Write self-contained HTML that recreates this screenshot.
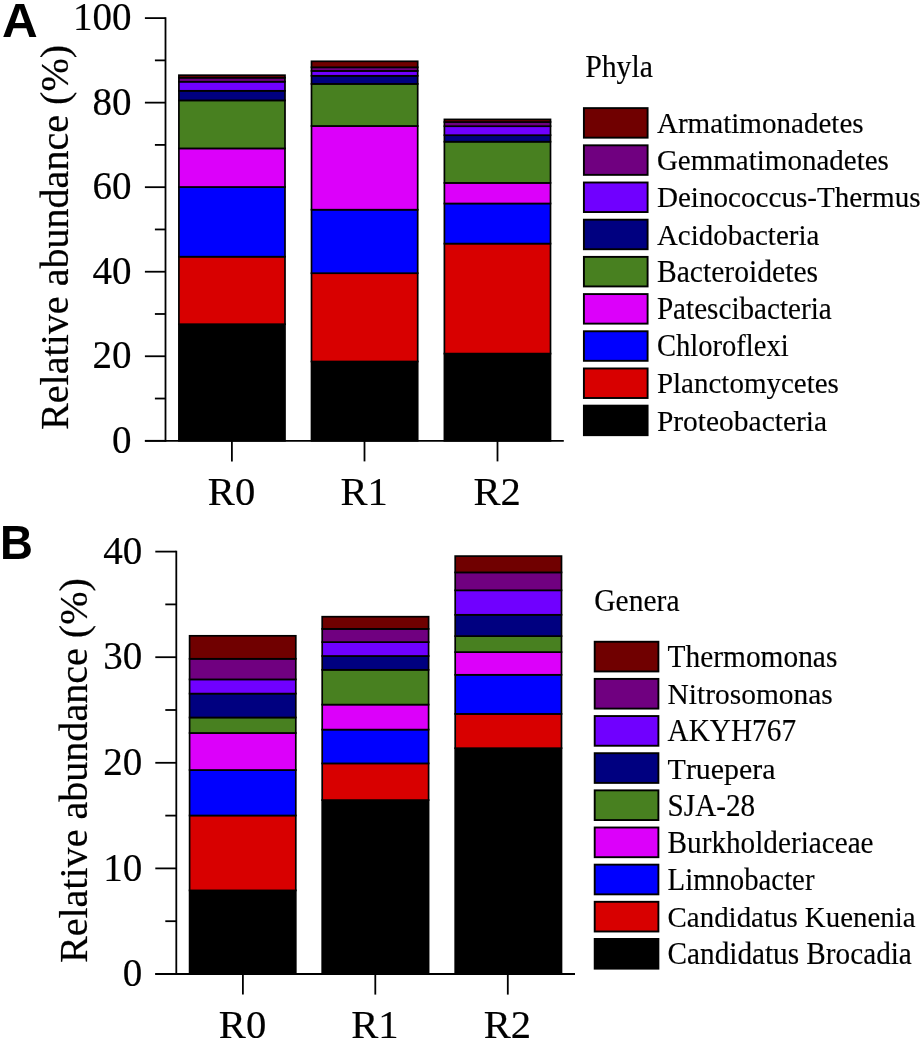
<!DOCTYPE html>
<html lang="en">
<head>
<meta charset="utf-8">
<title>Relative abundance of phyla and genera</title>
<style>
html, body { margin: 0; padding: 0; background: #ffffff; }
body { width: 924px; height: 1042px; overflow: hidden; }
svg { display: block; will-change: transform; }
text { fill: #000; font-kerning: none; font-variant-ligatures: none; stroke: #000; stroke-width: 0.2px; stroke-linejoin: round; }
.lg { stroke-width: 0.15px; }
.pl { stroke-width: 0; }
</style>
</head>
<body>
<svg width="924" height="1042" viewBox="0 0 924 1042">
<rect x="0" y="0" width="924" height="1042" fill="#ffffff"/>
<text transform="translate(2.1,37.2) scale(1.02,1)" class="pl" font-family='"Liberation Sans", Arial, sans-serif' font-weight="700" font-size="48.5">A</text>
<rect x="178.90" y="324.20" width="106.10" height="116.60" fill="#000000" stroke="#000" stroke-width="1.7"/>
<rect x="178.90" y="256.70" width="106.10" height="67.50" fill="#d80000" stroke="#000" stroke-width="1.7"/>
<rect x="178.90" y="187.00" width="106.10" height="69.70" fill="#0000ff" stroke="#000" stroke-width="1.7"/>
<rect x="178.90" y="148.40" width="106.10" height="38.60" fill="#dc00fa" stroke="#000" stroke-width="1.7"/>
<rect x="178.90" y="100.40" width="106.10" height="48.00" fill="#488020" stroke="#000" stroke-width="1.7"/>
<rect x="178.90" y="90.80" width="106.10" height="9.60" fill="#000080" stroke="#000" stroke-width="1.7"/>
<rect x="178.90" y="81.70" width="106.10" height="9.10" fill="#7000ff" stroke="#000" stroke-width="1.7"/>
<rect x="178.90" y="77.70" width="106.10" height="4.00" fill="#700080" stroke="#000" stroke-width="1.7"/>
<rect x="178.90" y="75.20" width="106.10" height="2.50" fill="#700000" stroke="#000" stroke-width="1.7"/>
<rect x="311.50" y="361.50" width="106.20" height="79.30" fill="#000000" stroke="#000" stroke-width="1.7"/>
<rect x="311.50" y="273.20" width="106.20" height="88.30" fill="#d80000" stroke="#000" stroke-width="1.7"/>
<rect x="311.50" y="209.70" width="106.20" height="63.50" fill="#0000ff" stroke="#000" stroke-width="1.7"/>
<rect x="311.50" y="126.00" width="106.20" height="83.70" fill="#dc00fa" stroke="#000" stroke-width="1.7"/>
<rect x="311.50" y="83.90" width="106.20" height="42.10" fill="#488020" stroke="#000" stroke-width="1.7"/>
<rect x="311.50" y="75.80" width="106.20" height="8.10" fill="#000080" stroke="#000" stroke-width="1.7"/>
<rect x="311.50" y="70.90" width="106.20" height="4.90" fill="#7000ff" stroke="#000" stroke-width="1.7"/>
<rect x="311.50" y="67.30" width="106.20" height="3.60" fill="#700080" stroke="#000" stroke-width="1.7"/>
<rect x="311.50" y="61.30" width="106.20" height="6.00" fill="#700000" stroke="#000" stroke-width="1.7"/>
<rect x="444.40" y="353.60" width="106.10" height="87.20" fill="#000000" stroke="#000" stroke-width="1.7"/>
<rect x="444.40" y="243.60" width="106.10" height="110.00" fill="#d80000" stroke="#000" stroke-width="1.7"/>
<rect x="444.40" y="203.50" width="106.10" height="40.10" fill="#0000ff" stroke="#000" stroke-width="1.7"/>
<rect x="444.40" y="182.90" width="106.10" height="20.60" fill="#dc00fa" stroke="#000" stroke-width="1.7"/>
<rect x="444.40" y="141.70" width="106.10" height="41.20" fill="#488020" stroke="#000" stroke-width="1.7"/>
<rect x="444.40" y="135.20" width="106.10" height="6.50" fill="#000080" stroke="#000" stroke-width="1.7"/>
<rect x="444.40" y="126.20" width="106.10" height="9.00" fill="#7000ff" stroke="#000" stroke-width="1.7"/>
<rect x="444.40" y="122.00" width="106.10" height="4.20" fill="#700080" stroke="#000" stroke-width="1.7"/>
<rect x="444.40" y="119.40" width="106.10" height="2.60" fill="#700000" stroke="#000" stroke-width="1.7"/>
<line x1="165.5" y1="17.20" x2="165.5" y2="441.70" stroke="#000" stroke-width="1.8"/>
<line x1="144.9" y1="440.8" x2="563.8" y2="440.8" stroke="#000" stroke-width="1.8"/>
<line x1="144.9" y1="440.80" x2="165.5" y2="440.80" stroke="#000" stroke-width="1.8"/>
<text transform="translate(131.5,453.00) scale(0.953,1)" text-anchor="end" font-family='"Liberation Serif", "Times New Roman", serif' font-size="41">0</text>
<line x1="144.9" y1="356.26" x2="165.5" y2="356.26" stroke="#000" stroke-width="1.8"/>
<text transform="translate(131.5,368.46) scale(0.953,1)" text-anchor="end" font-family='"Liberation Serif", "Times New Roman", serif' font-size="41">20</text>
<line x1="144.9" y1="271.72" x2="165.5" y2="271.72" stroke="#000" stroke-width="1.8"/>
<text transform="translate(131.5,283.92) scale(0.953,1)" text-anchor="end" font-family='"Liberation Serif", "Times New Roman", serif' font-size="41">40</text>
<line x1="144.9" y1="187.18" x2="165.5" y2="187.18" stroke="#000" stroke-width="1.8"/>
<text transform="translate(131.5,199.38) scale(0.953,1)" text-anchor="end" font-family='"Liberation Serif", "Times New Roman", serif' font-size="41">60</text>
<line x1="144.9" y1="102.64" x2="165.5" y2="102.64" stroke="#000" stroke-width="1.8"/>
<text transform="translate(131.5,114.84) scale(0.953,1)" text-anchor="end" font-family='"Liberation Serif", "Times New Roman", serif' font-size="41">80</text>
<line x1="144.9" y1="18.10" x2="165.5" y2="18.10" stroke="#000" stroke-width="1.8"/>
<text transform="translate(131.5,30.30) scale(0.953,1)" text-anchor="end" font-family='"Liberation Serif", "Times New Roman", serif' font-size="41">100</text>
<line x1="154.9" y1="398.53" x2="165.5" y2="398.53" stroke="#000" stroke-width="1.8"/>
<line x1="154.9" y1="313.99" x2="165.5" y2="313.99" stroke="#000" stroke-width="1.8"/>
<line x1="154.9" y1="229.45" x2="165.5" y2="229.45" stroke="#000" stroke-width="1.8"/>
<line x1="154.9" y1="144.91" x2="165.5" y2="144.91" stroke="#000" stroke-width="1.8"/>
<line x1="154.9" y1="60.37" x2="165.5" y2="60.37" stroke="#000" stroke-width="1.8"/>
<line x1="231.90" y1="440.8" x2="231.90" y2="461.40000000000003" stroke="#000" stroke-width="1.8"/>
<text x="231.50" y="504.9" text-anchor="middle" font-family='"Liberation Serif", "Times New Roman", serif' font-size="40.6">R0</text>
<line x1="364.50" y1="440.8" x2="364.50" y2="461.40000000000003" stroke="#000" stroke-width="1.8"/>
<text x="364.10" y="504.9" text-anchor="middle" font-family='"Liberation Serif", "Times New Roman", serif' font-size="40.6">R1</text>
<line x1="497.50" y1="440.8" x2="497.50" y2="461.40000000000003" stroke="#000" stroke-width="1.8"/>
<text x="497.10" y="504.9" text-anchor="middle" font-family='"Liberation Serif", "Times New Roman", serif' font-size="40.6">R2</text>
<text transform="translate(67.6,237.4) rotate(-90)" text-anchor="middle" font-family='"Liberation Serif", "Times New Roman", serif' font-size="40.1">Relative abundance (%)</text>
<text transform="translate(585.2,77.2) scale(0.975,1)" class="lg" font-family='"Liberation Serif", "Times New Roman", serif' font-size="30.5">Phyla</text>
<rect x="583.9" y="108.12" width="63.70" height="29.55" fill="#700000" stroke="#000" stroke-width="1.9"/>
<text transform="translate(656.9,133.00) scale(0.9540,1)" class="lg" font-family='"Liberation Serif", "Times New Roman", serif' font-size="30.5">Armatimonadetes</text>
<rect x="583.9" y="145.31" width="63.70" height="29.55" fill="#700080" stroke="#000" stroke-width="1.9"/>
<text transform="translate(656.9,170.19) scale(0.9515,1)" class="lg" font-family='"Liberation Serif", "Times New Roman", serif' font-size="30.5">Gemmatimonadetes</text>
<rect x="583.9" y="182.50" width="63.70" height="29.55" fill="#7000ff" stroke="#000" stroke-width="1.9"/>
<text transform="translate(656.9,207.38) scale(0.9554,1)" class="lg" font-family='"Liberation Serif", "Times New Roman", serif' font-size="30.5">Deinococcus-Thermus</text>
<rect x="583.9" y="219.69" width="63.70" height="29.55" fill="#000080" stroke="#000" stroke-width="1.9"/>
<text transform="translate(656.9,244.57) scale(0.9499,1)" class="lg" font-family='"Liberation Serif", "Times New Roman", serif' font-size="30.5">Acidobacteria</text>
<rect x="583.9" y="256.88" width="63.70" height="29.55" fill="#488020" stroke="#000" stroke-width="1.9"/>
<text transform="translate(656.9,281.76) scale(0.9717,1)" class="lg" font-family='"Liberation Serif", "Times New Roman", serif' font-size="30.5">Bacteroidetes</text>
<rect x="583.9" y="294.08" width="63.70" height="29.55" fill="#dc00fa" stroke="#000" stroke-width="1.9"/>
<text transform="translate(656.9,318.95) scale(0.9562,1)" class="lg" font-family='"Liberation Serif", "Times New Roman", serif' font-size="30.5">Patescibacteria</text>
<rect x="583.9" y="331.26" width="63.70" height="29.55" fill="#0000ff" stroke="#000" stroke-width="1.9"/>
<text transform="translate(656.9,356.14) scale(0.9368,1)" class="lg" font-family='"Liberation Serif", "Times New Roman", serif' font-size="30.5">Chloroflexi</text>
<rect x="583.9" y="368.46" width="63.70" height="29.55" fill="#d80000" stroke="#000" stroke-width="1.9"/>
<text transform="translate(656.9,393.33) scale(0.9513,1)" class="lg" font-family='"Liberation Serif", "Times New Roman", serif' font-size="30.5">Planctomycetes</text>
<rect x="583.9" y="405.64" width="63.70" height="29.55" fill="#000000" stroke="#000" stroke-width="1.9"/>
<text transform="translate(656.9,430.52) scale(0.9666,1)" class="lg" font-family='"Liberation Serif", "Times New Roman", serif' font-size="30.5">Proteobacteria</text>
<text transform="translate(-0.1,559.0) scale(0.94,1)" class="pl" font-family='"Liberation Sans", Arial, sans-serif' font-weight="700" font-size="48.5">B</text>
<rect x="189.60" y="890.40" width="106.20" height="83.60" fill="#000000" stroke="#000" stroke-width="1.7"/>
<rect x="189.60" y="815.50" width="106.20" height="74.90" fill="#d80000" stroke="#000" stroke-width="1.7"/>
<rect x="189.60" y="770.00" width="106.20" height="45.50" fill="#0000ff" stroke="#000" stroke-width="1.7"/>
<rect x="189.60" y="733.00" width="106.20" height="37.00" fill="#dc00fa" stroke="#000" stroke-width="1.7"/>
<rect x="189.60" y="717.50" width="106.20" height="15.50" fill="#488020" stroke="#000" stroke-width="1.7"/>
<rect x="189.60" y="693.60" width="106.20" height="23.90" fill="#000080" stroke="#000" stroke-width="1.7"/>
<rect x="189.60" y="679.40" width="106.20" height="14.20" fill="#7000ff" stroke="#000" stroke-width="1.7"/>
<rect x="189.60" y="658.80" width="106.20" height="20.60" fill="#700080" stroke="#000" stroke-width="1.7"/>
<rect x="189.60" y="635.80" width="106.20" height="23.00" fill="#700000" stroke="#000" stroke-width="1.7"/>
<rect x="322.20" y="800.10" width="106.40" height="173.90" fill="#000000" stroke="#000" stroke-width="1.7"/>
<rect x="322.20" y="763.40" width="106.40" height="36.70" fill="#d80000" stroke="#000" stroke-width="1.7"/>
<rect x="322.20" y="729.60" width="106.40" height="33.80" fill="#0000ff" stroke="#000" stroke-width="1.7"/>
<rect x="322.20" y="704.60" width="106.40" height="25.00" fill="#dc00fa" stroke="#000" stroke-width="1.7"/>
<rect x="322.20" y="669.80" width="106.40" height="34.80" fill="#488020" stroke="#000" stroke-width="1.7"/>
<rect x="322.20" y="656.00" width="106.40" height="13.80" fill="#000080" stroke="#000" stroke-width="1.7"/>
<rect x="322.20" y="642.10" width="106.40" height="13.90" fill="#7000ff" stroke="#000" stroke-width="1.7"/>
<rect x="322.20" y="628.90" width="106.40" height="13.20" fill="#700080" stroke="#000" stroke-width="1.7"/>
<rect x="322.20" y="616.70" width="106.40" height="12.20" fill="#700000" stroke="#000" stroke-width="1.7"/>
<rect x="455.20" y="748.20" width="106.30" height="225.80" fill="#000000" stroke="#000" stroke-width="1.7"/>
<rect x="455.20" y="713.90" width="106.30" height="34.30" fill="#d80000" stroke="#000" stroke-width="1.7"/>
<rect x="455.20" y="674.80" width="106.30" height="39.10" fill="#0000ff" stroke="#000" stroke-width="1.7"/>
<rect x="455.20" y="652.10" width="106.30" height="22.70" fill="#dc00fa" stroke="#000" stroke-width="1.7"/>
<rect x="455.20" y="636.10" width="106.30" height="16.00" fill="#488020" stroke="#000" stroke-width="1.7"/>
<rect x="455.20" y="614.80" width="106.30" height="21.30" fill="#000080" stroke="#000" stroke-width="1.7"/>
<rect x="455.20" y="590.30" width="106.30" height="24.50" fill="#7000ff" stroke="#000" stroke-width="1.7"/>
<rect x="455.20" y="572.40" width="106.30" height="17.90" fill="#700080" stroke="#000" stroke-width="1.7"/>
<rect x="455.20" y="556.10" width="106.30" height="16.30" fill="#700000" stroke="#000" stroke-width="1.7"/>
<line x1="176.3" y1="550.70" x2="176.3" y2="974.90" stroke="#000" stroke-width="1.8"/>
<line x1="155.3" y1="974.0" x2="575.0" y2="974.0" stroke="#000" stroke-width="1.8"/>
<line x1="155.3" y1="974.00" x2="176.3" y2="974.00" stroke="#000" stroke-width="1.8"/>
<text transform="translate(142.3,986.20) scale(0.953,1)" text-anchor="end" font-family='"Liberation Serif", "Times New Roman", serif' font-size="41">0</text>
<line x1="155.3" y1="868.40" x2="176.3" y2="868.40" stroke="#000" stroke-width="1.8"/>
<text transform="translate(142.3,880.60) scale(0.953,1)" text-anchor="end" font-family='"Liberation Serif", "Times New Roman", serif' font-size="41">10</text>
<line x1="155.3" y1="762.80" x2="176.3" y2="762.80" stroke="#000" stroke-width="1.8"/>
<text transform="translate(142.3,775.00) scale(0.953,1)" text-anchor="end" font-family='"Liberation Serif", "Times New Roman", serif' font-size="41">20</text>
<line x1="155.3" y1="657.20" x2="176.3" y2="657.20" stroke="#000" stroke-width="1.8"/>
<text transform="translate(142.3,669.40) scale(0.953,1)" text-anchor="end" font-family='"Liberation Serif", "Times New Roman", serif' font-size="41">30</text>
<line x1="155.3" y1="551.60" x2="176.3" y2="551.60" stroke="#000" stroke-width="1.8"/>
<text transform="translate(142.3,563.80) scale(0.953,1)" text-anchor="end" font-family='"Liberation Serif", "Times New Roman", serif' font-size="41">40</text>
<line x1="165.3" y1="921.20" x2="176.3" y2="921.20" stroke="#000" stroke-width="1.8"/>
<line x1="165.3" y1="815.60" x2="176.3" y2="815.60" stroke="#000" stroke-width="1.8"/>
<line x1="165.3" y1="710.00" x2="176.3" y2="710.00" stroke="#000" stroke-width="1.8"/>
<line x1="165.3" y1="604.40" x2="176.3" y2="604.40" stroke="#000" stroke-width="1.8"/>
<line x1="242.90" y1="974.0" x2="242.90" y2="994.6" stroke="#000" stroke-width="1.8"/>
<text x="242.50" y="1038.3" text-anchor="middle" font-family='"Liberation Serif", "Times New Roman", serif' font-size="40.6">R0</text>
<line x1="375.30" y1="974.0" x2="375.30" y2="994.6" stroke="#000" stroke-width="1.8"/>
<text x="374.90" y="1038.3" text-anchor="middle" font-family='"Liberation Serif", "Times New Roman", serif' font-size="40.6">R1</text>
<line x1="507.80" y1="974.0" x2="507.80" y2="994.6" stroke="#000" stroke-width="1.8"/>
<text x="507.40" y="1038.3" text-anchor="middle" font-family='"Liberation Serif", "Times New Roman", serif' font-size="40.6">R2</text>
<text transform="translate(86.7,770.6) rotate(-90)" text-anchor="middle" font-family='"Liberation Serif", "Times New Roman", serif' font-size="40.1">Relative abundance (%)</text>
<text transform="translate(594.3,611.4) scale(0.968,1)" class="lg" font-family='"Liberation Serif", "Times New Roman", serif' font-size="30.5">Genera</text>
<rect x="594.7" y="641.75" width="63.70" height="29.7" fill="#700000" stroke="#000" stroke-width="1.9"/>
<text transform="translate(667.6,667.10) scale(0.9638,1)" class="lg" font-family='"Liberation Serif", "Times New Roman", serif' font-size="30.5">Thermomonas</text>
<rect x="594.7" y="678.90" width="63.70" height="29.7" fill="#700080" stroke="#000" stroke-width="1.9"/>
<text transform="translate(667.6,704.25) scale(0.9653,1)" class="lg" font-family='"Liberation Serif", "Times New Roman", serif' font-size="30.5">Nitrosomonas</text>
<rect x="594.7" y="716.05" width="63.70" height="29.7" fill="#7000ff" stroke="#000" stroke-width="1.9"/>
<text transform="translate(667.6,741.40) scale(0.9601,1)" class="lg" font-family='"Liberation Serif", "Times New Roman", serif' font-size="30.5">AKYH767</text>
<rect x="594.7" y="753.20" width="63.70" height="29.7" fill="#000080" stroke="#000" stroke-width="1.9"/>
<text transform="translate(667.6,778.55) scale(0.9817,1)" class="lg" font-family='"Liberation Serif", "Times New Roman", serif' font-size="30.5">Truepera</text>
<rect x="594.7" y="790.35" width="63.70" height="29.7" fill="#488020" stroke="#000" stroke-width="1.9"/>
<text transform="translate(667.6,815.70) scale(0.9559,1)" class="lg" font-family='"Liberation Serif", "Times New Roman", serif' font-size="30.5">SJA-28</text>
<rect x="594.7" y="827.50" width="63.70" height="29.7" fill="#dc00fa" stroke="#000" stroke-width="1.9"/>
<text transform="translate(667.6,852.85) scale(0.9578,1)" class="lg" font-family='"Liberation Serif", "Times New Roman", serif' font-size="30.5">Burkholderiaceae</text>
<rect x="594.7" y="864.65" width="63.70" height="29.7" fill="#0000ff" stroke="#000" stroke-width="1.9"/>
<text transform="translate(667.6,890.00) scale(0.9430,1)" class="lg" font-family='"Liberation Serif", "Times New Roman", serif' font-size="30.5">Limnobacter</text>
<rect x="594.7" y="901.80" width="63.70" height="29.7" fill="#d80000" stroke="#000" stroke-width="1.9"/>
<text transform="translate(667.6,927.15) scale(0.9479,1)" class="lg" font-family='"Liberation Serif", "Times New Roman", serif' font-size="30.5">Candidatus Kuenenia</text>
<rect x="594.7" y="938.95" width="63.70" height="29.7" fill="#000000" stroke="#000" stroke-width="1.9"/>
<text transform="translate(667.6,964.30) scale(0.9584,1)" class="lg" font-family='"Liberation Serif", "Times New Roman", serif' font-size="30.5">Candidatus Brocadia</text>
</svg>
</body>
</html>
